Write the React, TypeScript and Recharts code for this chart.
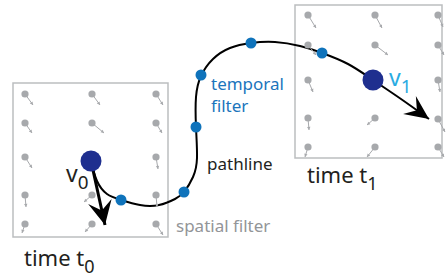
import React from 'react';
import {
    ComposedChart,
    XAxis,
    YAxis,
    Line,
    Scatter,
    ReferenceArea
} from 'recharts';

// diagram space is laid out 1:1 with the 446x278 picture (y grows downward)
const W = 446;
const H = 278;

// the two sample grids (time t0 and time t1)
const boxT0 = { x1: 13, x2: 168, y1: 83, y2: 237 };
const boxT1 = { x1: 295, x2: 442, y1: 5, y2: 158 };

// vector field samples: position + vector (u, v)
const fieldT0 = [
    { x: 25, y: 94, u: 8, v: 11 },
    { x: 92, y: 94, u: 8, v: 11 },
    { x: 156, y: 94, u: 7, v: 11 },
    { x: 25, y: 123, u: 7, v: 10 },
    { x: 92, y: 123, u: 12, v: 10 },
    { x: 156, y: 123, u: 6, v: 10 },
    { x: 25, y: 157, u: 7, v: 11 },
    { x: 156, y: 157, u: 2, v: 12 },
    { x: 25, y: 195, u: 1, v: 12 },
    { x: 92, y: 195, u: -8, v: 7 },
    { x: 156, y: 195, u: 1, v: 12 },
    { x: 25, y: 224, u: -3, v: 9 },
    { x: 92, y: 224, u: -7, v: 8 },
    { x: 156, y: 224, u: 7, v: 11 }
];

const fieldT1 = [
    { x: 308, y: 15, u: 8, v: 13 },
    { x: 375, y: 15, u: 7, v: 13 },
    { x: 438, y: 15, u: 5, v: 12 },
    { x: 308, y: 45, u: 8, v: 10 },
    { x: 375, y: 45, u: 13, v: 10 },
    { x: 438, y: 45, u: 6, v: 10 },
    { x: 308, y: 80, u: 5, v: 12 },
    { x: 438, y: 80, u: 2, v: 12 },
    { x: 308, y: 118, u: 1, v: 12 },
    { x: 375, y: 118, u: -8, v: 7 },
    { x: 438, y: 119, u: 7, v: 13 },
    { x: 308, y: 147, u: -3, v: 10 },
    { x: 375, y: 147, u: -8, v: 10 },
    { x: 438, y: 147, u: 6, v: 10 }
];

// the pathline, traced from v0 to past v1
const pathline = [
    { x: 91, y: 161 },
    { x: 97, y: 181 },
    { x: 107, y: 194 },
    { x: 121, y: 200 },
    { x: 140, y: 205 },
    { x: 159, y: 205 },
    { x: 175, y: 199 },
    { x: 184, y: 192 },
    { x: 193, y: 177 },
    { x: 197, y: 158 },
    { x: 196, y: 127 },
    { x: 196, y: 97 },
    { x: 201, y: 76 },
    { x: 213, y: 59 },
    { x: 230, y: 48 },
    { x: 251, y: 43 },
    { x: 275, y: 42 },
    { x: 300, y: 46 },
    { x: 322, y: 53 },
    { x: 348, y: 64 },
    { x: 373, y: 80 },
    { x: 401, y: 99 },
    { x: 429, y: 119 }
];

// velocity v0 drawn as a straight arrow
const velocityV0 = [
    { x: 91, y: 161 },
    { x: 105, y: 225 }
];

// filter samples along the pathline
const filterDots = [
    { x: 121, y: 200 },
    { x: 184, y: 192 },
    { x: 196, y: 127 },
    { x: 201, y: 75 },
    { x: 251, y: 43 },
    { x: 322, y: 53 }
];

// particle positions at t0 and t1
const particles = [
    { x: 91, y: 161 },
    { x: 373, y: 80 }
];

const labels = [
    { id: 'temporal1', x: 211, y: 90, text: 'temporal' },
    { id: 'temporal2', x: 211, y: 112, text: 'filter' },
    { id: 'pathline', x: 207, y: 170, text: 'pathline' },
    { id: 'spatial', x: 176, y: 232, text: 'spatial filter' },
    { id: 'timeT0', x: 24, y: 266, text: 'time t', sub: '0' },
    { id: 'timeT1', x: 307, y: 183, text: 'time t', sub: '1' },
    { id: 'v0', x: 66, y: 182, text: 'v', sub: '0' },
    { id: 'v1', x: 389, y: 86, text: 'v', sub: '1' }
];

const labelStyle: Record<string, { fill: string; size: number }> = {
    temporal1: { fill: '#1b75bc', size: 17 },
    temporal2: { fill: '#1b75bc', size: 17 },
    pathline: { fill: '#231f20', size: 17 },
    spatial: { fill: '#939598', size: 17 },
    timeT0: { fill: '#231f20', size: 22 },
    timeT1: { fill: '#231f20', size: 22 },
    v0: { fill: '#231f20', size: 23 },
    v1: { fill: '#29abe2', size: 23 }
};

const angleOf = (pts: { x: number; y: number }[]) => {
    const a = pts[pts.length - 2];
    const b = pts[pts.length - 1];
    return Math.atan2(b.y - a.y, b.x - a.x) * 180 / Math.PI;
};

const arrowTips = [
    { ...pathline[pathline.length - 1], angle: angleOf(pathline), len: 24, half: 11 },
    { ...velocityV0[1], angle: angleOf(velocityV0), len: 24, half: 12 }
];

const FONT = '"Noto Sans", "Open Sans", sans-serif';

const VectorGlyph = (props: any) => {
    const { cx, cy, payload } = props;
    const ex = cx + payload.u;
    const ey = cy + payload.v;
    const ang = Math.atan2(payload.v, payload.u);
    const h = 3.5;
    const p1x = ex - h * Math.cos(ang - 0.5);
    const p1y = ey - h * Math.sin(ang - 0.5);
    const p2x = ex - h * Math.cos(ang + 0.5);
    const p2y = ey - h * Math.sin(ang + 0.5);
    return (
        <g>
            <line x1={cx} y1={cy} x2={ex} y2={ey} stroke="#a7a9ac" strokeWidth={1} />
            <polygon points={`${ex},${ey} ${p1x},${p1y} ${p2x},${p2y}`} fill="#a7a9ac" />
            <circle cx={cx} cy={cy} r={3.6} fill="#a7a9ac" />
        </g>
    );
};

const ArrowHead = (props: any) => {
    const { cx, cy, payload } = props;
    const L = payload.len;
    const Hh = payload.half;
    return (
        <polygon
            transform={`translate(${cx},${cy}) rotate(${payload.angle})`}
            points={`0,0 ${-L},${-Hh} ${-L * 0.62},0 ${-L},${Hh}`}
            fill="#000"
        />
    );
};

const TextLabel = (props: any) => {
    const { cx, cy, payload } = props;
    const st = labelStyle[payload.id];
    return (
        <text x={cx} y={cy} fill={st.fill} fontSize={st.size} fontFamily={FONT}>
            {payload.text}
            {payload.sub && (
                <tspan fontSize={st.size * 0.82} dy={st.size * 0.3}>{payload.sub}</tspan>
            )}
        </text>
    );
};

export default function App() {
    return (
        <div style={{ position: 'absolute', left: 0, top: 0, width: W, height: H, background: '#fff' }}>
            <ComposedChart width={W} height={H} margin={{ top: 0, right: 0, bottom: 0, left: 0 }}>
                <XAxis type="number" dataKey="x" domain={[0, W]} hide allowDataOverflow />
                <YAxis type="number" dataKey="y" domain={[0, H]} reversed hide allowDataOverflow />

                <ReferenceArea {...boxT0} fill="none" stroke="#bcbec0" strokeWidth={1.5} ifOverflow="visible" />
                <ReferenceArea {...boxT1} fill="none" stroke="#bcbec0" strokeWidth={1.5} ifOverflow="visible" />

                <Scatter data={fieldT0} shape={VectorGlyph} isAnimationActive={false} />
                <Scatter data={fieldT1} shape={VectorGlyph} isAnimationActive={false} />

                <Scatter data={particles} fill="#1f2f8f" shape={(p: any) => <circle cx={p.cx} cy={p.cy} r={10.5} fill="#1f2f8f" />} isAnimationActive={false} />

                <Line data={pathline} dataKey="y" type="natural" stroke="#000" strokeWidth={2} dot={false} activeDot={false} isAnimationActive={false} />
                <Line data={velocityV0} dataKey="y" type="linear" stroke="#000" strokeWidth={3} dot={false} activeDot={false} isAnimationActive={false} />
                <Scatter data={arrowTips} shape={ArrowHead} isAnimationActive={false} />

                <Scatter data={filterDots} shape={(p: any) => <circle cx={p.cx} cy={p.cy} r={5.5} fill="#0f73bb" />} isAnimationActive={false} />

                <Scatter data={labels} shape={TextLabel} isAnimationActive={false} />
            </ComposedChart>
        </div>
    );
}
